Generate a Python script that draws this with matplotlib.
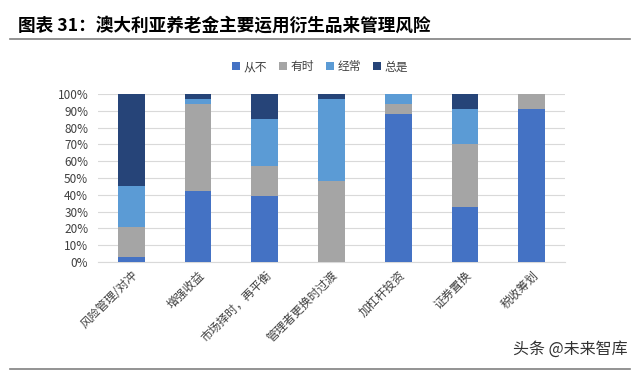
import matplotlib
matplotlib.use("Agg")
import matplotlib.pyplot as plt
import numpy as np

plt.rcParams['font.family'] = ['Noto Sans CJK SC', 'DejaVu Sans']

# 数据（从图中读取，单位 %）
categories = ["风险管理/对冲", "增强收益", "市场择时，再平衡", "管理者更换时过渡",
              "加杠杆投资", "证券置换", "税收筹划"]
never = [3, 42, 39, 0, 88, 33, 91]       # 从不
sometimes = [18, 52, 18, 48, 6, 37, 9]   # 有时
often = [24, 3, 28, 49, 6, 21, 0]        # 经常
always = [55, 3, 15, 3, 0, 9, 0]         # 总是

series_names = ["从不", "有时", "经常", "总是"]
colors = ["#4472C4", "#A5A5A5", "#5B9BD5", "#264478"]

fig = plt.figure(figsize=(6.4, 3.72), dpi=100)
ax = fig.add_axes([0.153, 0.296, 0.73, 0.451])

x = np.arange(len(categories))
bottom = np.zeros(len(categories))
for name, vals, c in zip(series_names, [never, sometimes, often, always], colors):
    ax.bar(x, vals, 0.4, bottom=bottom, color=c, label=name, zorder=3)
    bottom += np.array(vals)

ax.set_xlim(-0.5, len(categories) - 0.5)
ax.set_ylim(0, 100)
ax.set_yticks(range(0, 101, 10))
ax.set_yticklabels([f"{v}%" for v in range(0, 101, 10)], fontsize=8.5, color="#404040")
ax.set_xticks(x)
ax.set_xticklabels(categories, rotation=45, ha="right", rotation_mode="anchor",
                   fontsize=8.5, color="#404040")
ax.tick_params(axis="y", length=0, pad=7)
ax.tick_params(axis="x", length=0, pad=5)
ax.yaxis.grid(True, color="#D9D9D9", linewidth=0.8, zorder=0)
for s in ["top", "right", "left"]:
    ax.spines[s].set_visible(False)
ax.spines["bottom"].set_color("#D9D9D9")

ax.legend(loc="center", bbox_to_anchor=(0.5, 0.82), bbox_transform=fig.transFigure,
          ncol=4, frameon=False, fontsize=8.5, handlelength=0.7, handleheight=0.7,
          handletextpad=0.3, columnspacing=1.0, labelcolor="#404040")

fig.text(0.028, 0.93, "图表 31：澳大利亚养老金主要运用衍生品来管理风险",
         fontsize=12.7, fontweight="bold", va="center", ha="left")
fig.add_artist(plt.Line2D([0.016, 0.984], [0.895, 0.895], color="#808080", linewidth=1.2))
fig.add_artist(plt.Line2D([0.016, 0.984], [0.008, 0.008], color="#808080", linewidth=1.2))
fig.text(0.98, 0.06, "头条 @未来智库", fontsize=11.5, ha="right", va="center", color="#333333")

fig.savefig("out.png", dpi=100)
